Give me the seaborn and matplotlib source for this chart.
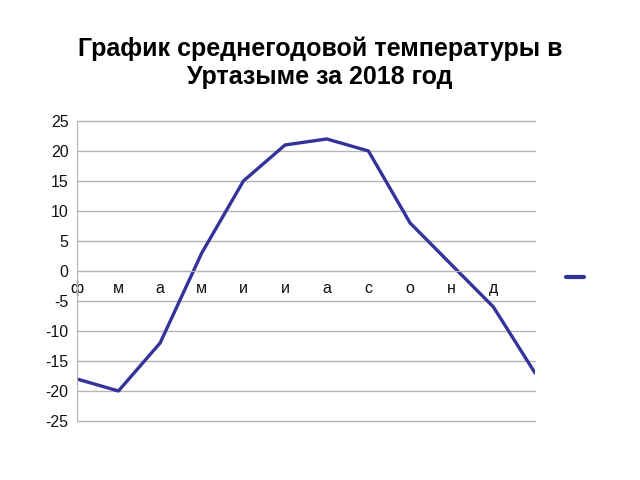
import pandas as pd
import seaborn as sns
import matplotlib.pyplot as plt
from matplotlib.lines import Line2D

# ====== Данные ======
MONTHS = ["ф", "м", "а", "м", "и", "и", "а", "с", "о", "н", "д", ""]
TEMPS = [-18, -20, -12, 3, 15, 21, 22, 20, 8, 1, -6, -17]
TITLE = "График среднегодовой температуры в\nУртазыме за 2018 год"

LINE_COLOR = "#333399"
GRID_COLOR = "#b3b3b3"

sns.set_style("white")
plt.rcParams["font.family"] = ["Liberation Sans", "DejaVu Sans"]
plt.rcParams["axes.unicode_minus"] = False

df = pd.DataFrame({"pos": range(len(TEMPS)), "temp": TEMPS})

fig = plt.figure(figsize=(6.4, 4.8), dpi=100)
ax = fig.add_axes([0.120, 0.123, 0.716, 0.625])

sns.lineplot(data=df, x="pos", y="temp", color=LINE_COLOR, linewidth=2.4, ax=ax)

ax.set_xlim(0, len(TEMPS) - 1)
ax.set_ylim(-25, 25)
ax.set_yticks(range(-25, 26, 5))
ax.set_xticks(range(len(TEMPS)))
ax.set_xticklabels(MONTHS)
ax.set_xlabel("")
ax.set_ylabel("")

ax.yaxis.grid(True, color=GRID_COLOR, linewidth=1)
ax.set_axisbelow(True)
for gl in ax.get_ygridlines():
    gl.set_clip_on(False)

for side in ["top", "right"]:
    ax.spines[side].set_visible(False)
ax.spines["left"].set_color(GRID_COLOR)
ax.spines["bottom"].set_color(GRID_COLOR)
ax.spines["bottom"].set_position(("data", 0))

ax.tick_params(axis="x", colors=GRID_COLOR, length=5, direction="out", labelcolor="#111111",
               labelsize=11.5, pad=2)
ax.tick_params(axis="y", colors=GRID_COLOR, length=4, direction="out", labelcolor="#111111",
               labelsize=11.5, pad=2)

fig.text(0.5, 0.869, TITLE, fontsize=18, fontweight="bold", ha="center", va="center",
         linespacing=1.2, color="black")

handle = Line2D([], [], color=LINE_COLOR, linewidth=3)
ax.legend(handles=[handle], labels=[""], frameon=False, handlelength=1.3,
          loc="center left", bbox_to_anchor=(1.04, 0.477))

fig.savefig("out.png", dpi=100)
